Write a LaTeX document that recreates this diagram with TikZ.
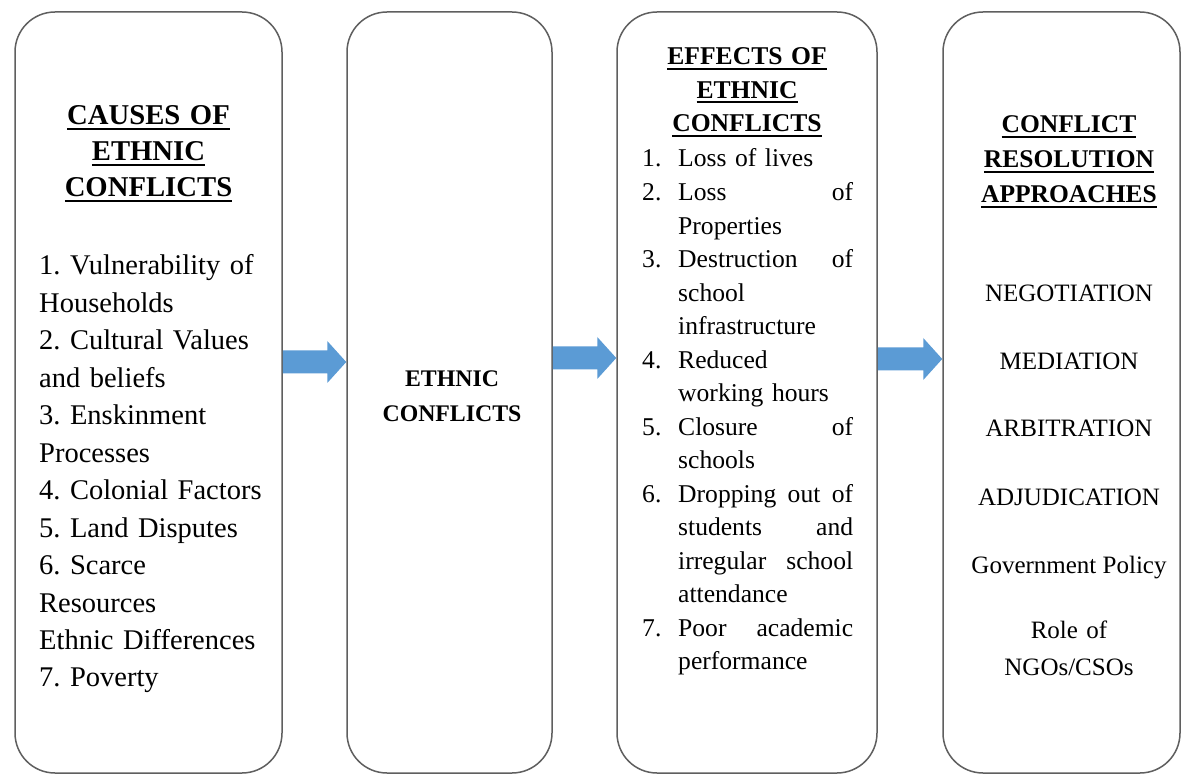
\documentclass[tikz,border=0pt]{standalone}
\usepackage{fontspec}
\setmainfont{Liberation Serif}
\usetikzlibrary{calc}
\definecolor{boxline}{HTML}{5F5F5F}
\definecolor{arrowcol}{HTML}{5B9BD5}
\newsavebox\hulbox
\newcommand\hul[1]{\mbox{\sbox\hulbox{#1}\rlap{\rule[-5pt]{\wd\hulbox}{2pt}}\usebox\hulbox}}
\newcommand\blockarrow[3]{%
  \fill[arrowcol] ($(#1.east |- 0,#3)+(0,-11.5)$) -- ($(#2.west |- 0,#3)+(-19,-11.5)$)
    -- ($(#2.west |- 0,#3)+(-19,-21)$) -- (#2.west |- 0,#3)
    -- ($(#2.west |- 0,#3)+(-19,21)$) -- ($(#2.west |- 0,#3)+(-19,11.5)$)
    -- ($(#1.east |- 0,#3)+(0,11.5)$) -- cycle;}
\frenchspacing
\begin{document}
\begin{tikzpicture}[x=1pt,y=-1pt,
  box/.style={draw=boxline, line width=1.5pt, rounded corners=40pt, inner sep=0pt, minimum height=761pt},
  txt/.style={inner sep=0pt, text=black},
  headA/.style={txt, anchor=base, align=center, font=\frenchspacing\bfseries\fontsize{28.7}{36}\selectfont},
  headB/.style={txt, anchor=base, align=center, font=\frenchspacing\bfseries\fontsize{25.6}{33.5}\selectfont},
  item/.style={txt, anchor=base, align=center, font=\fontsize{25}{37}\selectfont}]
\useasboundingbox (0,0) rectangle (1181,775);
\fill[white] (0,0) rectangle (1181,775);

% boxes
\node[box, minimum width=267pt] (b1) at (148.5,392.5) {};
\node[box, minimum width=205pt] (b2) at (449.5,392.5) {};
\node[box, minimum width=260pt] (b3) at (747,392.5) {};
\node[box, minimum width=237pt] (b4) at (1061.5,392.5) {};

% box 1
\node[headA, text width=260pt] (h1) at (148.5,125) {\hul{CAUSES OF}\\\hul{ETHNIC}\\\hul{CONFLICTS}};
\node[txt, anchor=base west, text width=245pt, align=left, font=\frenchspacing\fontsize{28.5}{37.45}\selectfont] (l1) at (39,275)
 {1. Vulnerability of\\
  Households\\
  2. Cultural Values\\
  and beliefs\\
  3. Enskinment\\
  Processes\\
  4. Colonial Factors\\
  5. Land Disputes\\
  6. Scarce\\
  Resources\\
  Ethnic Differences\\
  7. Poverty};

% box 2
\node[txt, anchor=base, text width=200pt, align=center, font=\bfseries\fontsize{23.8}{35}\selectfont] (h2) at (452,387) {ETHNIC\\CONFLICTS};

% box 3
\node[headB, text width=250pt] (h3) at (747,65) {\hul{EFFECTS OF}\\\hul{ETHNIC}\\\hul{CONFLICTS}};
\node[txt, anchor=base west, text width=211pt, align=left, font=\frenchspacing\fontsize{25.6}{33.53}\selectfont] (l3) at (642,167)
 {\makebox[36pt][l]{1.}Loss of lives\\
  \makebox[36pt][l]{2.}Loss\hfill of\\
  \hspace*{36pt}Properties\\
  \makebox[36pt][l]{3.}Destruction\hfill of\\
  \hspace*{36pt}school\\
  \hspace*{36pt}infrastructure\\
  \makebox[36pt][l]{4.}Reduced\\
  \hspace*{36pt}working hours\\
  \makebox[36pt][l]{5.}Closure\hfill of\\
  \hspace*{36pt}schools\\
  \makebox[36pt][l]{6.}Dropping\hfill out\hfill of\\
  \hspace*{36pt}students\hfill and\\
  \hspace*{36pt}irregular\hfill school\\
  \hspace*{36pt}attendance\\
  \makebox[36pt][l]{7.}Poor\hfill academic\\
  \hspace*{36pt}performance};

% box 4
\node[headB, text width=230pt, font=\frenchspacing\bfseries\fontsize{25.5}{35}\selectfont] (h4) at (1069,133) {\hul{CONFLICT}\\\hul{RESOLUTION}\\\hul{APPROACHES}};
\node[item] (neg) at (1069,302) {NEGOTIATION};
\node[item] (med) at (1069,370) {MEDIATION};
\node[item] (arb) at (1069,437) {ARBITRATION};
\node[item] (adj) at (1069,505) {ADJUDICATION};
\node[item] (gov) at (1069,573) {Government Policy};
\node[item, text width=230pt] (ngo) at (1069,638) {Role of\\NGOs/CSOs};

% arrows
\blockarrow{b1}{b2}{362}
\blockarrow{b2}{b3}{358}
\blockarrow{b3}{b4}{359}
\end{tikzpicture}
\end{document}
